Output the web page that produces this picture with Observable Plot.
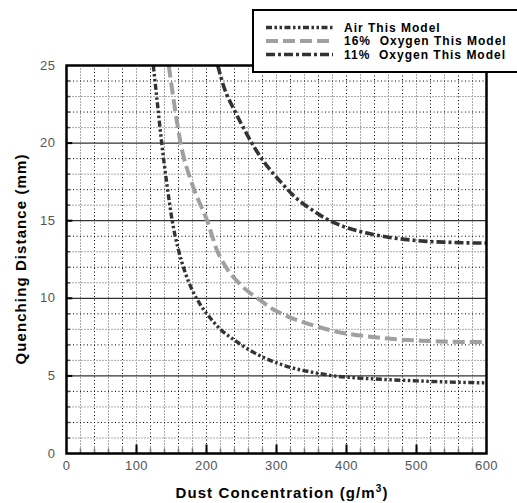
<!DOCTYPE html>
<html>
<head>
<meta charset="utf-8">
<script src="https://cdn.jsdelivr.net/npm/d3@7"></script>
<script src="https://cdn.jsdelivr.net/npm/@observablehq/plot@0.6"></script>
<style>
  html, body { margin: 0; padding: 0; background: #fff; }
  svg { display: block; }
</style>
</head>
<body>
<div id="chart"></div>
<script>
// ---- data ----
const seriesNames = ["Air This Model", "16%  Oxygen This Model", "11%  Oxygen This Model"];

const airX = [124, 130, 136, 143, 151, 160, 170, 181, 191, 205, 220, 237, 253, 268, 282, 306, 330, 358, 382, 406, 450, 500, 550, 600];
const airY = [25, 22.5, 20, 17.5, 15, 13.1, 11.6, 10.4, 9.6, 8.75, 8.0, 7.4, 6.9, 6.5, 6.18, 5.75, 5.43, 5.18, 5.0, 4.9, 4.78, 4.68, 4.6, 4.55];

const o16X = [146, 154, 163, 180, 201, 215, 228, 248, 276, 295, 315, 339, 363, 391, 420, 449, 477, 506, 534, 563, 600];
const o16Y = [25, 22.5, 20, 17.3, 15, 13.1, 12.0, 10.9, 9.9, 9.3, 8.85, 8.45, 8.12, 7.8, 7.6, 7.45, 7.34, 7.27, 7.22, 7.19, 7.18];

const o11X = [216, 225, 240, 255, 270, 287, 306, 327, 349, 370, 396, 429, 458, 487, 515, 544, 577, 600];
const o11Y = [25, 23.6, 22.1, 20.8, 19.6, 18.5, 17.5, 16.5, 15.75, 15.15, 14.62, 14.2, 13.95, 13.78, 13.67, 13.61, 13.57, 13.56];

const xTicks = [0, 100, 200, 300, 400, 500, 600];
const yTicks = [0, 5, 10, 15, 20, 25];

const xLabel = "Dust Concentration (g/m";
const yLabel = "Quenching Distance (mm)";

// ---- derived tables ----
const toRows = (xs, ys, s) => xs.map((x, i) => ({x, y: ys[i], s}));
const air = toRows(airX, airY, seriesNames[0]);
const o16 = toRows(o16X, o16Y, seriesNames[1]);
const o11 = toRows(o11X, o11Y, seriesNames[2]);

const styles = [
  {stroke: "#333", dash: "6,2.5,2.5,2.5,2.5,2.5", width: 3.4},
  {stroke: "#a0a0a0", dash: "12,5", width: 4},
  {stroke: "#333", dash: "9,3,3,3", width: 3.6}
];

const minorXAll = d3.range(20, 600, 20);
const minorY = d3.range(1, 25, 1).filter(v => v % 5 !== 0);
const majorY = [5, 10, 15, 20];

const curve = "monotone-x";
const FONT = "Liberation Sans, Arial, sans-serif";

const plot = Plot.plot({
  width: 517,
  height: 503,
  marginTop: 65,
  marginBottom: 50,
  marginLeft: 66,
  marginRight: 31,
  x: {domain: [0, 600], axis: null},
  y: {domain: [0, 25], axis: null},
  style: {fontFamily: FONT, background: "#fff"},
  marks: [
    // minor grid: alternating gray and black-dotted
    Plot.ruleX(minorXAll.filter((v, i) => i % 2 === 0), {x: d => d, stroke: "#aaa", strokeWidth: 1, strokeDasharray: "2,1"}),
    Plot.ruleX(minorXAll.filter((v, i) => i % 2 === 1), {x: d => d, stroke: "#000", strokeWidth: 1, strokeDasharray: "1,2.5"}),
    Plot.ruleY(minorY.filter((v, i) => i % 2 === 0), {y: d => d, stroke: "#aaa", strokeWidth: 1, strokeDasharray: "2,1"}),
    Plot.ruleY(minorY.filter((v, i) => i % 2 === 1), {y: d => d, stroke: "#000", strokeWidth: 1, strokeDasharray: "1,2.5"}),
    // major horizontal lines
    Plot.ruleY(majorY, {y: d => d, stroke: "#333", strokeWidth: 1.2}),
    // minor ticks
    Plot.ruleX(minorXAll, {x: d => d, y1: 0, y2: 0.3, stroke: "#777", strokeWidth: 1.5}),
    Plot.ruleY(d3.range(1, 25), {y: d => d, x1: 0, x2: 6, stroke: "#555", strokeWidth: 1.5}),
    // major ticks
    Plot.ruleX(xTicks.slice(1, -1), {x: d => d, y1: 0, y2: 0.55, stroke: "#000", strokeWidth: 2}),
    Plot.ruleY(majorY, {y: d => d, x1: 0, x2: 9, stroke: "#000", strokeWidth: 2}),
    // curves
    Plot.line(air, {x: "x", y: "y", stroke: styles[0].stroke, strokeWidth: styles[0].width, strokeDasharray: styles[0].dash, strokeLinecap: "butt", curve}),
    Plot.line(o16, {x: "x", y: "y", stroke: styles[1].stroke, strokeWidth: styles[1].width, strokeDasharray: styles[1].dash, strokeLinecap: "butt", curve}),
    Plot.line(o11, {x: "x", y: "y", stroke: styles[2].stroke, strokeWidth: styles[2].width, strokeDasharray: styles[2].dash, strokeLinecap: "butt", curve}),
    Plot.frame({stroke: "#000", strokeWidth: 2.5}),
    // tick labels
    Plot.text(xTicks, {x: d => d, y: 0, text: d => String(d), dy: 12, fontSize: 13, fill: "#555", lineAnchor: "middle", textAnchor: "middle"}),
    Plot.text(yTicks, {x: 0, y: d => d, text: d => String(d), dx: -11, fontSize: 13, fill: "#555", textAnchor: "end", lineAnchor: "middle"})
  ]
});

const svg = d3.select(plot);
svg.selectAll("text").style("letter-spacing", "0.5px");

// axis titles
svg.append("text")
  .attr("x", 282).attr("y", 498)
  .attr("text-anchor", "middle")
  .attr("font-size", 15).attr("font-weight", "bold")
  .attr("font-family", FONT)
  .style("letter-spacing", "1.1px")
  .call(t => {
    t.append("tspan").text(xLabel);
    t.append("tspan").attr("dy", -6).attr("font-size", 10).text("3");
    t.append("tspan").attr("dy", 6).text(")");
  });

svg.append("text")
  .attr("transform", "translate(26,259) rotate(-90)")
  .attr("text-anchor", "middle")
  .attr("font-size", 15).attr("font-weight", "bold")
  .attr("font-family", FONT)
  .style("letter-spacing", "1.1px")
  .text(yLabel);

// legend box
const lg = svg.append("g").attr("text-anchor", "start");
lg.append("rect")
  .attr("x", 253).attr("y", 10).attr("width", 300).attr("height", 62)
  .attr("fill", "#fff").attr("stroke", "#000").attr("stroke-width", 2);
const rowsY = [27.5, 41, 54.5];
seriesNames.forEach((name, i) => {
  lg.append("line")
    .attr("x1", 266).attr("x2", 333).attr("y1", rowsY[i]).attr("y2", rowsY[i])
    .attr("stroke", styles[i].stroke).attr("stroke-width", styles[i].width)
    .attr("stroke-dasharray", styles[i].dash);
  lg.append("text")
    .attr("x", 344).attr("y", rowsY[i] + 4.2)
    .attr("text-anchor", "start")
    .attr("font-size", 12).attr("font-weight", "bold")
    .attr("font-family", FONT)
    .style("letter-spacing", "1px")
    .style("white-space", "pre")
    .text(name);
});

document.getElementById("chart").append(plot);
</script>
</body>
</html>
